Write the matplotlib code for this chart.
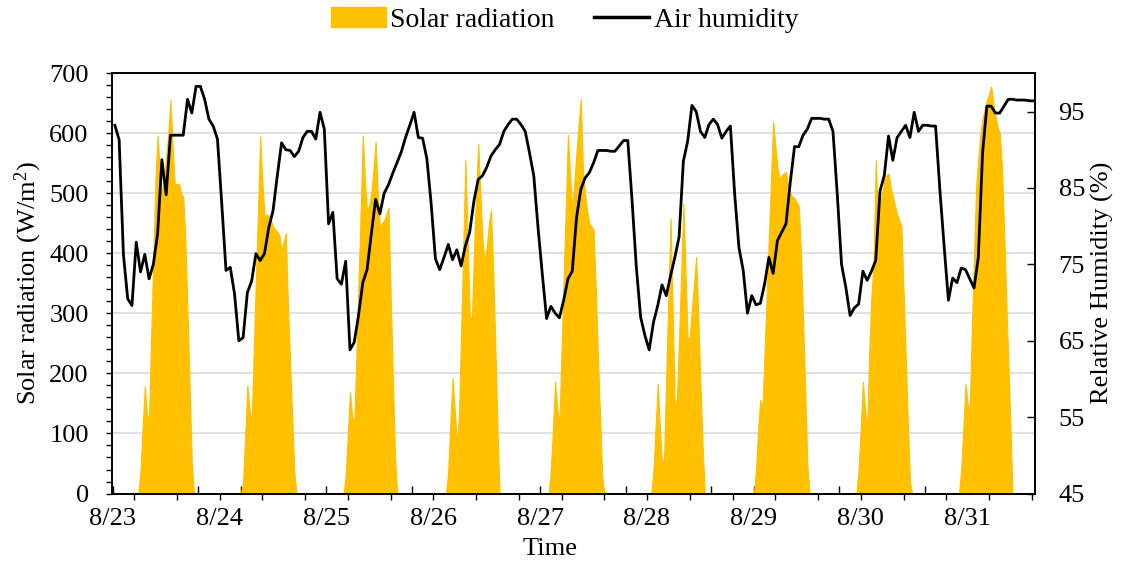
import numpy as np
import matplotlib
matplotlib.use("Agg")
import matplotlib.pyplot as plt
from matplotlib.ticker import MultipleLocator
from matplotlib.patches import Patch
from matplotlib.lines import Line2D

plt.rcParams['font.family'] = ['Liberation Serif', 'DejaVu Serif']
plt.rcParams['mathtext.fontset'] = 'custom'
plt.rcParams['mathtext.rm'] = 'Liberation Serif'
plt.rcParams['mathtext.it'] = 'Liberation Serif:italic'

dates = ['8/23', '8/24', '8/25', '8/26', '8/27', '8/28', '8/29', '8/30', '8/31']

# Solar radiation (W/m2), half-hourly from 06:00 to 19:00; zero at night
solar_0823 = [0, 40, 110, 178, 130, 128, 264, 394, 524, 596, 540, 500, 520, 560,
              600, 656, 580, 514, 516, 516, 500, 494, 420, 300, 175, 50, 0]
solar_0824 = [0, 20, 100, 180, 140, 119, 240, 360, 476, 596, 520, 464, 464, 463,
              455, 445, 440, 436, 430, 405, 420, 434, 310, 217, 125, 32, 0]
solar_0825 = [0, 30, 100, 169, 130, 114, 230, 350, 470, 596, 520, 470, 480, 500,
              540, 586, 500, 444, 450, 455, 465, 476, 340, 200, 70, 0, 0]
solar_0826 = [0, 40, 120, 192, 140, 83, 128, 270, 410, 556, 430, 300, 285, 400,
              500, 583, 500, 420, 389, 410, 450, 472, 370, 250, 110, 0, 0]
solar_0827 = [0, 40, 110, 186, 140, 117, 240, 360, 480, 597, 530, 472, 520, 570,
              615, 657, 540, 500, 470, 450, 445, 439, 340, 230, 130, 30, 0]
solar_0828 = [0, 40, 110, 183, 110, 47, 61, 200, 330, 458, 300, 139, 160, 260,
              370, 483, 370, 256, 261, 310, 350, 394, 290, 180, 80, 0, 0]
solar_0829 = [0, 40, 110, 156, 142, 237, 333, 428, 524, 619, 580, 542, 525, 530,
              533, 536, 511, 500, 495, 492, 485, 478, 400, 290, 170, 50, 0]
solar_0830 = [0, 40, 110, 186, 140, 108, 240, 330, 386, 556, 460, 480, 500, 520,
              530, 533, 510, 495, 480, 465, 455, 445, 340, 230, 120, 20, 0]
solar_0831 = [0, 40, 110, 183, 150, 139, 280, 400, 511, 560, 600, 625, 640, 655,
              665, 678, 650, 630, 610, 600, 548, 445, 333, 223, 113, 0, 0]

# Relative humidity (%), hourly readings taken at half past each hour
hum_0823 = [93.2, 91.3, 76.3, 70.5, 69.6, 77.9, 74.0, 76.3, 73.1, 75.0, 79.0, 88.7,
            84.1, 91.9, 91.9, 91.9, 91.9, 96.6, 94.8, 98.3, 98.3, 96.6, 94.0, 93.1]
hum_0824 = [91.4, 83.0, 74.2, 74.6, 71.1, 65.0, 65.4, 71.3, 72.8, 76.4, 75.5, 76.4,
            79.8, 82.0, 86.6, 90.9, 90.0, 89.9, 89.1, 89.8, 91.6, 92.4, 92.4, 91.4]
hum_0825 = [94.9, 92.7, 80.3, 81.8, 73.1, 72.4, 75.4, 63.8, 64.8, 68.3, 72.6, 74.3,
            79.0, 83.5, 81.6, 84.3, 85.4, 86.9, 88.3, 89.7, 91.6, 93.2, 94.9, 91.6]
hum_0826 = [91.5, 88.8, 82.9, 75.7, 74.3, 75.9, 77.6, 75.6, 76.9, 74.8, 77.4, 79.2,
            83.3, 86.1, 86.6, 87.7, 89.2, 90.0, 90.7, 92.4, 93.3, 94.0, 94.0, 93.3]
hum_0827 = [92.4, 89.6, 86.6, 79.8, 73.7, 67.9, 69.5, 68.6, 68.0, 70.3, 73.1, 74.1,
            81.1, 84.8, 86.3, 87.0, 88.3, 89.9, 89.9, 89.9, 89.8, 89.8, 90.5, 91.2]
hum_0828 = [91.2, 83.3, 74.6, 68.1, 65.7, 63.8, 67.4, 69.6, 72.3, 70.9, 73.5, 75.9,
            78.6, 88.5, 91.1, 95.8, 95.0, 92.4, 91.6, 93.3, 94.0, 93.3, 91.5, 92.4]
hum_0829 = [93.1, 84.2, 77.2, 74.2, 68.6, 70.9, 69.7, 69.9, 72.4, 75.9, 73.8, 78.1,
            79.2, 80.3, 85.7, 90.4, 90.4, 91.9, 92.7, 94.1, 94.1, 94.1, 94.0, 94.0]
hum_0830 = [92.4, 84.2, 75.0, 72.0, 68.3, 69.3, 69.8, 74.1, 72.9, 74.1, 75.5, 84.6,
            86.6, 91.8, 88.6, 91.6, 92.4, 93.2, 91.6, 94.9, 92.4, 93.2, 93.2, 93.1]
hum_0831 = [93.1, 84.8, 77.4, 70.3, 73.2, 72.6, 74.5, 74.3, 73.1, 71.9, 75.9, 89.6,
            95.7, 95.7, 94.8, 94.8, 95.7, 96.6, 96.6, 96.5, 96.5, 96.5, 96.4, 96.4]

solar_days = [solar_0823, solar_0824, solar_0825, solar_0826, solar_0827,
              solar_0828, solar_0829, solar_0830, solar_0831]
hum_days = [hum_0823, hum_0824, hum_0825, hum_0826, hum_0827,
            hum_0828, hum_0829, hum_0830, hum_0831]

# assemble continuous series (time axis in hours from 8/23 00:00)
SLOTS_PER_DAY = 48
SUNRISE_SLOT = 12  # 06:00
solar = np.zeros(len(solar_days) * SLOTS_PER_DAY)
for d, vals in enumerate(solar_days):
    start = d * SLOTS_PER_DAY + SUNRISE_SLOT
    solar[start:start + len(vals)] = vals
t_solar = np.arange(solar.size) * 0.5

humidity = np.concatenate([np.asarray(v, dtype=float) for v in hum_days])
t_hum = np.arange(humidity.size) + 0.5

GOLD = '#FFC000'
FS = 19

fig = plt.figure(figsize=(11.29, 5.67), dpi=100)
ax = fig.add_axes([0.0989, 0.1296, 0.8178, 0.7411])

ax.fill_between(t_solar, solar, 0, facecolor=GOLD, edgecolor=GOLD, lw=0.8, zorder=2)
ax.set_xlim(-0.25, 215.75)
ax.set_ylim(0, 700)
ax.yaxis.set_major_locator(MultipleLocator(100))
ax.yaxis.set_minor_locator(MultipleLocator(20))
ax.grid(axis='y', which='major', color='#D9D9D9', lw=1.1)
ax.set_axisbelow(True)
ax.tick_params(axis='y', which='both', direction='out', length=4.5, width=1.0,
               labelsize=FS, pad=12)

# bottom tick marks: outward every 10 h (offset 5 h), inward every 10 h
ax.set_xticks(np.arange(5, 216, 10))
ax.set_xticks(np.arange(0, 216, 10), minor=True)
ax.tick_params(axis='x', which='major', direction='out', length=4.3, width=1.0,
               labelbottom=False)
ax.tick_params(axis='x', which='minor', direction='in', length=5.5, width=1.0,
               labelbottom=False)

# date labels every 25 h
sec = ax.secondary_xaxis('bottom')
sec.set_xticks(np.arange(0, 201, 25), labels=dates)
sec.tick_params(length=0, pad=10.5, labelsize=FS)
sec.spines['bottom'].set_visible(False)

for s in ax.spines.values():
    s.set_linewidth(1.2)
    s.set_color('black')

ax2 = ax.twinx()
ax2.plot(t_hum, humidity, color='black', lw=2.0, zorder=3, solid_joinstyle='round')
ax2.set_ylim(45, 100)
ax2.set_yticks(np.arange(45, 96, 10))
ax2.tick_params(axis='y', direction='in', length=5.8, width=1.0, labelsize=FS, pad=17)
for s in ax2.spines.values():
    s.set_linewidth(1.2)

fig.text(550 / 1129, 1 - 549 / 567, 'Time', ha='center', va='center', fontsize=FS)
fig.text(28 / 1129, 0.5009, 'Solar radiation (W/m$^{2}$)', ha='center', va='center',
         rotation=90, fontsize=FS)
fig.text(1102 / 1129, 0.5009, 'Relative Humidity (%)', ha='center', va='center',
         rotation=90, fontsize=FS)

handles = [Patch(facecolor=GOLD, edgecolor=GOLD, label='Solar radiation'),
           Line2D([0], [0], color='black', lw=2.5, label='Air humidity')]
fig.legend(handles=handles, loc='center', bbox_to_anchor=(564.5 / 1129, 1 - 20 / 567),
           ncol=2, frameon=False, fontsize=20, handlelength=2.0, handletextpad=0.15,
           columnspacing=1.4)

fig.savefig('out.png', dpi=100)
